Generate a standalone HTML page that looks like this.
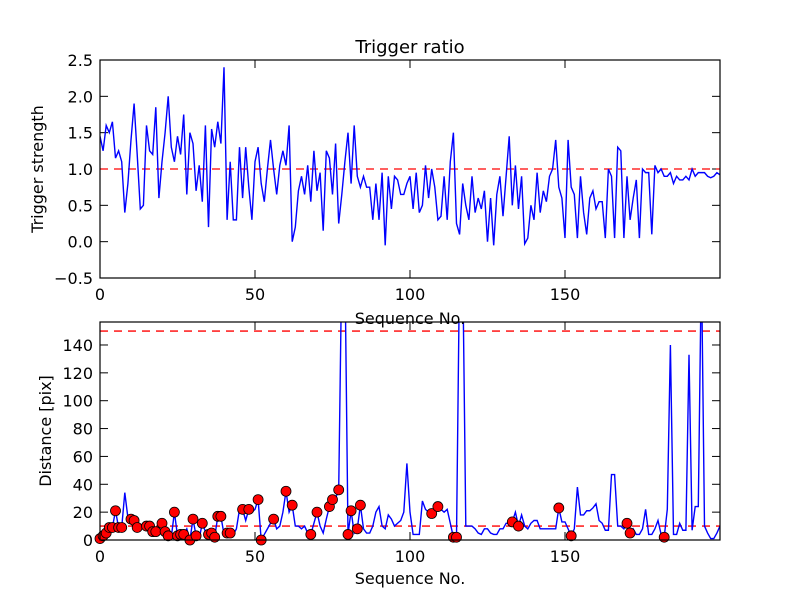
<!DOCTYPE html>
<html><head><meta charset="utf-8"><style>
body{margin:0;background:#fff}
svg{display:block;font-family:"DejaVu Sans","Liberation Sans",sans-serif}
</style></head><body>
<svg id="chart" width="800" height="600" viewBox="0 0 800 600">
<rect width="800" height="600" fill="#fff"/>
<g id="g"></g>
</svg>
<script>
const trigger=[1.45,1.25,1.6,1.5,1.65,1.15,1.25,1.1,0.4,0.8,1.4,1.9,1.2,0.45,0.5,1.6,1.25,1.2,1.85,0.6,1.1,1.5,2.0,1.3,1.1,1.45,1.2,1.75,0.65,1.5,1.35,0.7,1.05,0.55,1.6,0.2,1.55,1.3,1.65,1.35,2.4,0.3,1.1,0.3,0.3,1.3,0.6,1.3,0.75,0.3,1.1,1.3,0.8,0.55,1.0,1.4,1.0,0.65,1.05,1.25,1.05,1.6,0.0,0.2,0.7,0.9,0.65,1.05,0.55,1.25,0.7,0.95,0.15,1.25,1.15,0.65,1.35,0.25,0.65,1.1,1.5,0.8,1.6,0.9,0.75,0.9,0.75,0.75,0.3,0.8,0.3,0.95,-0.05,0.9,0.45,0.9,0.85,0.65,0.65,0.8,0.9,0.45,0.95,0.4,0.5,1.05,0.6,1.0,0.75,0.3,0.35,0.9,0.3,1.1,1.5,0.25,0.1,0.8,0.5,0.3,0.9,0.4,0.6,0.45,0.7,0.0,0.6,-0.05,0.65,0.9,0.35,0.9,1.45,0.5,1.05,0.45,0.9,-0.03,0.05,0.5,0.3,0.95,0.4,0.7,0.55,0.9,1.0,1.4,0.75,0.6,0.05,1.4,0.75,0.65,0.05,0.9,0.4,0.1,0.6,0.7,0.45,0.55,0.55,0.05,1.0,0.9,0.05,1.3,1.25,0.05,0.9,0.3,0.6,0.85,0.05,1.0,0.95,0.95,0.1,1.05,0.95,1.0,0.9,0.9,0.95,0.8,0.9,0.85,0.85,0.9,0.85,1.0,0.9,0.95,0.95,0.95,0.9,0.88,0.9,0.95,0.92,0.88];
const distance=[1,3,5,9,9,21,9,9,34,16,15,14,9,10,10,10,10,6,6,8,12,6,3,2,20,3,4,4,8,0,15,3,1,12,6,4,5,2,17,17,4,5,5,4,8,22,22,14,22,20,22,29,0,4,8,12,15,8,10,20,35,20,25,10,10,8,10,5,4,12,20,10,5,15,24,29,30,36,200,200,4,21,5,8,25,8,5,5,10,20,24,10,8,18,15,10,12,14,20,55,20,4,4,4,28,22,20,19,22,24,22,20,22,12,2,2,200,200,10,10,10,8,5,4,8,8,5,4,4,8,8,12,12,13,20,10,18,10,8,12,14,14,8,8,8,8,8,8,23,13,13,8,3,8,38,18,18,21,21,23,26,14,12,7,7,47,47,10,10,8,12,5,8,4,4,8,22,4,4,8,14,4,2,22,140,4,4,12,7,7,133,7,24,24,200,10,5,1,1,5,10];
const markerIdx=[0,1,2,3,4,5,6,7,10,11,12,15,16,17,18,20,21,22,24,25,26,27,29,30,31,33,35,36,37,38,39,41,42,46,48,51,52,56,60,62,68,70,74,75,77,80,81,83,84,107,109,114,115,133,135,148,152,170,171,182];
const topYTicks=["-0.5","0.0","0.5","1.0","1.5","2.0","2.5"];
const botYTicks=["0","20","40","60","80","100","120","140"];
const xTicks=["0","50","100","150"];

const NS="http://www.w3.org/2000/svg";
const G=document.getElementById('g');
function el(t,a,p){const e=document.createElementNS(NS,t);for(const k in a)e.setAttribute(k,a[k]);(p||G).appendChild(e);return e;}
const L=100,R=720;
const X=i=>L+(i/200)*(R-L);
const T={top:60,bot:278,min:-0.5,max:2.5};
const B={top:322,bot:540,min:0,max:156.5};
const Yt=v=>T.bot-(v-T.min)/(T.max-T.min)*(T.bot-T.top);
const Yb=v=>B.bot-(v-B.min)/(B.max-B.min)*(B.bot-B.top);

el('clipPath',{id:'c1'});el('rect',{x:L,y:T.top,width:R-L,height:T.bot-T.top},G.lastChild);
el('clipPath',{id:'c2'});el('rect',{x:L,y:B.top,width:R-L,height:B.bot-B.top},G.lastChild);

function axes(P,Y,yt,name){
  let f=el('rect',{x:L,y:P.top,width:R-L,height:P.bot-P.top,fill:'#fff'});
  
  
  xTicks.forEach(t=>{const x=X(+t);
    el('line',{x1:x,x2:x,y1:P.bot,y2:P.bot-8,stroke:'#000'});
    el('line',{x1:x,x2:x,y1:P.top,y2:P.top+8,stroke:'#000'});
    const tx=el('text',{x:x,y:P.bot+22,'text-anchor':'middle','font-size':16});tx.textContent=t;
    
    
  });
  yt.forEach(t=>{const y=Y(+t);
    el('line',{x1:L,x2:L+8,y1:y,y2:y,stroke:'#000'});
    el('line',{x1:R,x2:R-8,y1:y,y2:y,stroke:'#000'});
    const tx=el('text',{x:L-7,y:y+6,'text-anchor':'end','font-size':16});tx.textContent=t.replace('-','\u2212');
    
    
  });
}
axes(T,Yt,topYTicks,'top');
axes(B,Yb,botYTicks,'bottom');

let d=el('line',{x1:L,x2:R,y1:Yt(1),y2:Yt(1),stroke:'red','stroke-width':1.3,'stroke-dasharray':'8,6'});


let p1=el('polyline',{points:trigger.map((v,i)=>X(i)+','+Yt(v)).join(' '),fill:'none',stroke:'#0000ff','stroke-width':1.4,'clip-path':'url(#c1)'});



[150,10].forEach(v=>{let l=el('line',{x1:L,x2:R,y1:Yb(v),y2:Yb(v),stroke:'red','stroke-width':1.3,'stroke-dasharray':'8,6'});
  
  });
let p2=el('polyline',{points:distance.map((v,i)=>X(i)+','+Yb(v)).join(' '),fill:'none',stroke:'#0000ff','stroke-width':1.4,'clip-path':'url(#c2)'});


markerIdx.forEach(i=>{const c=el('circle',{cx:X(i),cy:Yb(distance[i]),r:5,fill:'#ff0000',stroke:'#000','stroke-width':0.8});
  
  });

[T,B].forEach(P=>{const f=el('rect',{x:L,y:P.top,width:R-L,height:P.bot-P.top,fill:'none',stroke:'#000','stroke-width':1.2});
  
  });

function txt(s,a,name){const t=el('text',a);t.textContent=s;
  
  }
txt('Trigger ratio',{x:410,y:53,'text-anchor':'middle','font-size':18},'chart-title');
txt('Trigger strength',{x:0,y:0,'text-anchor':'middle','font-size':16,transform:'translate(43,169) rotate(-90)'},'top-y-axis-title');
txt('Sequence No.',{x:410,y:324,'text-anchor':'middle','font-size':16},'top-x-axis-title');
txt('Distance [pix]',{x:0,y:0,'text-anchor':'middle','font-size':16,transform:'translate(51,431) rotate(-90)'},'bottom-y-axis-title');
txt('Sequence No.',{x:410,y:584,'text-anchor':'middle','font-size':16},'bottom-x-axis-title');
</script>
</body></html>
